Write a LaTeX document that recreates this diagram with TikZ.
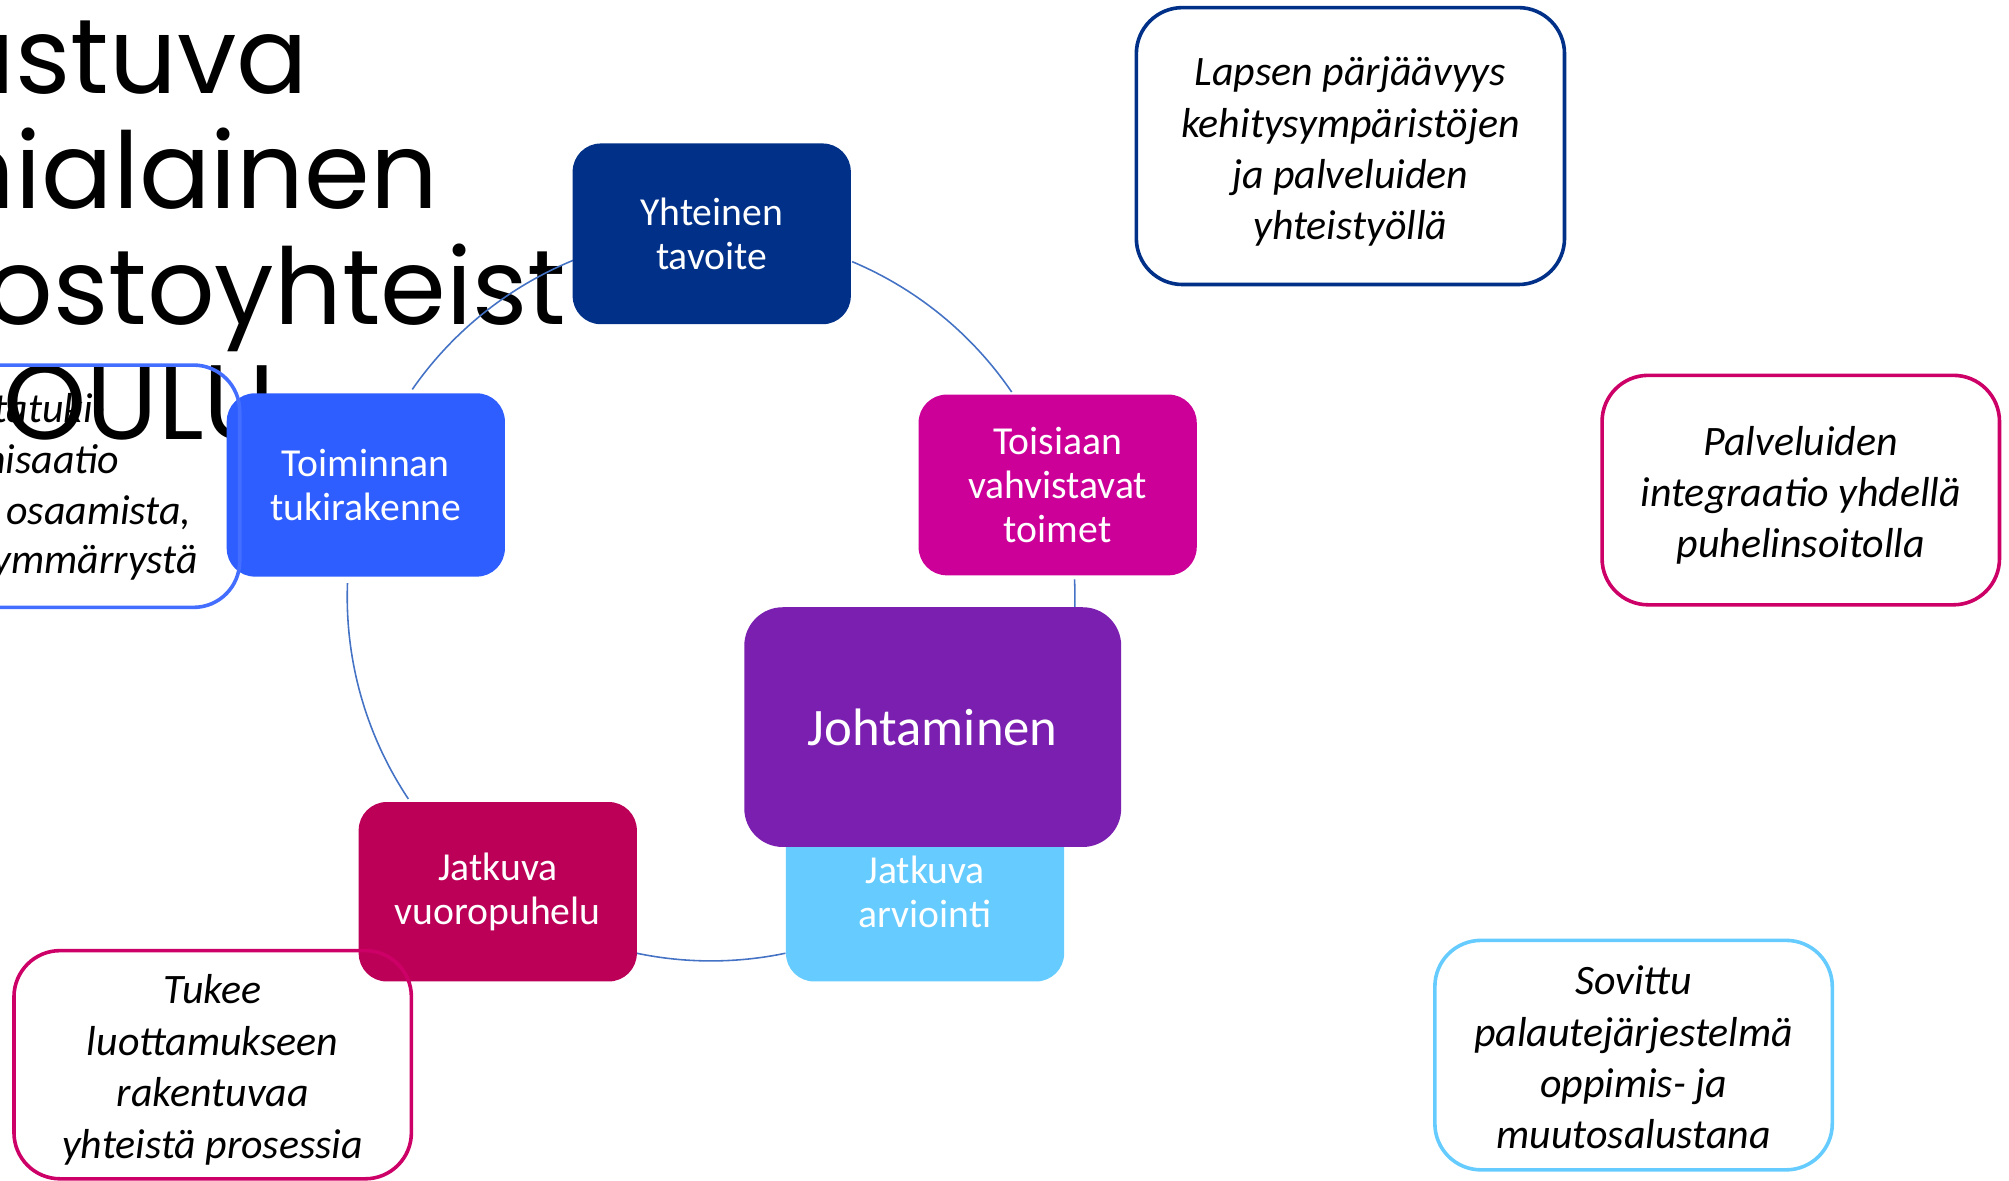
\documentclass[tikz,border=0pt]{standalone}
\usepackage{fontspec}
\setmainfont{Carlito}
\newfontfamily\popfont{Poppins}
\definecolor{goalblue}{RGB}{0,48,135}
\definecolor{mutualmag}{RGB}{204,0,153}
\definecolor{supportblue}{RGB}{46,94,255}
\definecolor{dialred}{RGB}{188,0,88}
\definecolor{evalsky}{RGB}{102,204,255}
\definecolor{leadpurple}{RGB}{122,31,175}
\definecolor{ringblue}{RGB}{68,114,196}
\definecolor{notepink}{RGB}{204,0,102}
\tikzset{
  core/.style={rounded corners=0.22cm, minimum width=2.17cm, minimum height=1.41cm,
    text=white, align=center, inner sep=0pt, font=\fontsize{8.8}{9.7}\selectfont},
  note/.style={draw, line width=0.8pt, rounded corners=0.36cm, minimum width=3.1cm,
    minimum height=1.79cm, inner sep=0pt},
  notetext/.style={align=center, inner sep=0pt, font=\itshape\fontsize{9.3}{11.4}\selectfont},
  ring/.style={draw=ringblue, line width=0.35pt},
}
\begin{document}
\begin{tikzpicture}[x=0.01cm, y=-0.01cm]
		%% units are pixels of the slide, y down
		\useasboundingbox (0,0) rectangle (1568,921);
		\clip (0,0) rectangle (1568,921);
		
		% Title, cut by the left edge
		\foreach \t/\x/\y [count=\i] in {ustuva/-41.5/73, nialainen/-41.5/163, ostoyhteist/-12/253, OULU/2/343}
			\node[anchor=base west, inner sep=0pt, font=\popfont\fontsize{23.5}{24}\selectfont] (title\i) at (\x,\y) {\t};
		
		% Cycle ring
		\coordinate (ctr) at (555,466);
		\foreach \a/\b in {-67.2/-34.3, -2.8/1.6, 78.2/101.8, 146.3/182.2, 214.8/247.8}
			\draw[ring] (ctr) ++(\a:284) arc[start angle=\a, end angle=\b, radius=284];
		
		% Cycle steps
		\node[core, fill=goalblue] (goal) at (555.5,182.5) {Yhteinen\\tavoite};
		\node[core, fill=mutualmag] (mutual) at (825.5,378.5) {Toisiaan\\vahvistavat\\toimet};
		\node[core, fill=supportblue, minimum height=1.43cm] (support) at (285.5,378.5) {Toiminnan\\tukirakenne};
		\node[core, fill=dialred, minimum height=1.40cm] (dialogue) at (388.5,696) {Jatkuva\\vuoropuhelu};
		\node[core, fill=evalsky, minimum height=1.40cm] (evaluation) at (722,696) {Jatkuva\\arviointi};
		\node[core, fill=leadpurple, minimum width=2.94cm, minimum height=1.87cm, rounded corners=0.3cm,
			font=\fontsize{11.7}{13}\selectfont] (lead) at (728,567.5) {Johtaminen};
		
		% Notes round the cycle
		\node[note, draw=goalblue, minimum width=3.34cm, minimum height=2.16cm] (nchild) at (1054,114) {};
		\node[note, draw=notepink] (nphone) at (1405.5,382.5) {};
		\node[note, draw=evalsky] (nfeedback) at (1275,823.5) {};
		\node[note, draw=notepink, minimum height=1.78cm] (ntrust) at (166,831) {};
		\node[note, draw=supportblue!90!white, minimum height=1.89cm] (norg) at (32,379.5) {};
		
		\node[notetext] (tchild) at ([yshift=-0.045cm]nchild.center)
			{Lapsen pärjäävyys\\kehitysympäristöjen\\ja palveluiden\\yhteistyöllä};
		\node[notetext] (tphone) at ([yshift=-0.04cm]nphone.center)
			{Palveluiden\\integraatio yhdellä\\puhelinsoitolla};
		\node[notetext] (tfeedback) at ([yshift=-0.02cm]nfeedback.center)
			{Sovittu\\palautejärjestelmä\\oppimis- ja\\muutosalustana};
		\node[notetext] (ttrust) at ([yshift=-0.04cm]ntrust.center)
			{Tukee\\luottamukseen\\rakentuvaa\\yhteistä prosessia};
		\foreach \t/\x/\y [count=\i] in {tatuki-/83/330, nisaatio/94/369.5, {osaamista,}/150/409, ymmärrystä/155/448}
			\node[notetext, anchor=base east] (torg\i) at (\x,\y) {\t};
	\end{tikzpicture}
\end{document}
